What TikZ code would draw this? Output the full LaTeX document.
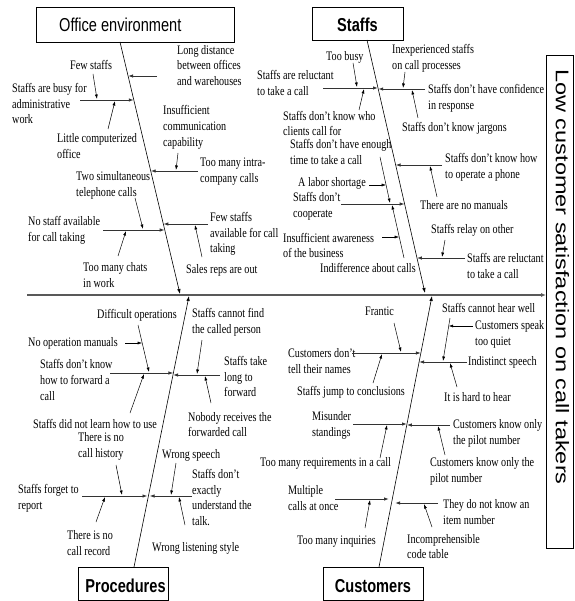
\documentclass[tikz,border=0pt]{standalone}
\usepackage{fontspec}
\setmainfont{Liberation Serif}[FakeStretch=0.78]
\newfontfamily\catfont{Liberation Sans}[FakeStretch=0.78]
\newfontfamily\effectfont{Liberation Sans}
\usetikzlibrary{arrows.meta}
\tikzset{
 lbl/.style={anchor=west,align=left,inner sep=0pt,font=\fontsize{13}{15.8}\selectfont},
 catbox/.style={draw,line width=0.6pt,inner sep=0pt},
 cattext/.style={inner sep=0pt,font=\catfont\fontsize{18.7}{20}\selectfont},
 catbold/.style={inner sep=0pt,font=\catfont\bfseries\fontsize{18.7}{20}\selectfont},
 spine/.style={line width=1.3pt,draw=black!65,-{Latex[length=5pt,width=4pt]}},
 bone/.style={line width=0.6pt,-{Latex[length=5pt,width=3.5pt]}},
 subbone/.style={line width=0.9pt,draw=black!80,-{Latex[length=5pt,width=3.5pt]}},
 cause/.style={line width=0.5pt,-{Latex[length=4.5pt,width=3pt]}},
}

\begin{document}
\begin{tikzpicture}[x=1pt,y=-1pt]
 \useasboundingbox (0,0) rectangle (574,601);
 % category boxes and effect
 \node[catbox,minimum width=198pt,minimum height=35pt] (officebox) at (135,24.5) {};
 \node[cattext,anchor=base west] (officetxt) at (59,31.7) {Office environment};
 \node[catbox,minimum width=91pt,minimum height=33pt] (staffbox) at (357.5,23.5) {};
 \node[catbold,anchor=base] (stafftxt) at (357.5,32) {Staffs};
 \node[catbox,minimum width=90pt,minimum height=33pt] (procbox) at (123,583.5) {};
 \node[catbold,anchor=base] (proctxt) at (125.5,592) {Procedures};
 \node[catbox,minimum width=100pt,minimum height=33pt] (custbox) at (373,583.5) {};
 \node[catbold,anchor=base] (custtxt) at (373,592) {Customers};
 \node[catbox,minimum width=27pt,minimum height=493pt] (effect) at (559.8,301.5) {};
 \node[rotate=-90,inner sep=0pt,font=\effectfont\fontsize{23.5}{25}\selectfont] (effecttxt) at (562.5,277) {\scalebox{1}[0.78]{Low customer satisfaction on call takers}};
 \coordinate (tail) at (27,295);
 \draw[spine] (tail) -- (tail -| effect.west);

 % office environment
 \node[lbl] (longdist) at (177,65.5) {Long distance\\between offices\\and warehouses};
 \node[lbl] (busy) at (12,103.5) {Staffs are busy for\\administrative\\work};
 \node[lbl] (fewstaffs) at (70,65) {Few staffs};
 \node[lbl] (littlecomp) at (57,146) {Little computerized\\office};
 \node[lbl] (insuffcomm) at (163,127.5) {Insufficient\\communication\\capability};
 \node[lbl] (intra) at (200,171.5) {Too many intra-\\company calls};
 \node[lbl] (twocalls) at (76,185) {Two simultaneous\\telephone calls};
 \node[lbl] (nostaff) at (28,230) {No staff available\\for call taking};
 \node[lbl] (chats) at (83,275) {Too many chats\\in work};
 \node[lbl] (fewavail) at (210,234) {Few staffs\\available for call\\taking};
 \node[lbl] (salesreps) at (186,270) {Sales reps are out};
 \coordinate (otop) at (120,42); \coordinate (otip) at (180,294);
 \draw[bone] (otop) -- (otip);
 \foreach \n/\a/\b in {o1/{157,76}/{128.1,76},o2/{80,100}/{133.8,100},o3/{198,171}/{150.7,171},o4/{103,230}/{164.7,230},o5/{208,224}/{163.3,224}}
  {\coordinate (\n-s) at (\a); \coordinate (\n-e) at (\b); \draw[subbone] (\n-s) -- (\n-e);}
 \foreach \n/\a/\b in {oc1/{93,74}/{97,99},oc2/{108,129}/{115,101},oc3/{178,153}/{176,170},oc4/{135,198}/{143,229},oc5/{118,256}/{126,231},oc6/{202,257}/{195,225}}
  {\coordinate (\n-s) at (\a); \coordinate (\n-e) at (\b); \draw[cause] (\n-s) -- (\n-e);}

 % staffs
 \node[lbl] (toobusy) at (326,57) {Too busy};
 \node[lbl] (reluct1) at (257,83) {Staffs are reluctant\\to take a call};
 \node[lbl] (knowwho) at (283,123.5) {Staffs don't know who\\clients call for};
 \node[lbl] (inexp) at (392,58) {Inexperienced staffs\\on call processes};
 \node[lbl] (confid) at (428,98.5) {Staffs don't have confidence\\in response};
 \node[lbl] (jargons) at (402,128) {Staffs don't know jargons};
 \node[lbl] (enough) at (290,152) {Staffs don't have enough\\time to take a call};
 \node[lbl] (operate) at (445,167) {Staffs don't know how\\to operate a phone};
 \node[lbl] (labor) at (298,183) {A labor shortage};
 \node[lbl] (cooperate) at (293,206.5) {Staffs don't\\cooperate};
 \node[lbl] (nomanuals) at (420,205) {There are no manuals};
 \node[lbl] (awareness) at (283,245.5) {Insufficient awareness\\of the business};
 \node[lbl] (relay) at (431,230) {Staffs relay on other};
 \node[lbl] (reluct2) at (467,266) {Staffs are reluctant\\to take a call};
 \node[lbl] (indiff) at (320,268) {Indifference about calls};
 \coordinate (stop) at (367,40); \coordinate (stip) at (425,293);
 \draw[bone] (stop) -- (stip);
 \foreach \n/\a/\b in {s1/{323,88}/{378,88},s2/{425,89}/{378.2,89},s3/{442,165}/{395.6,165},s4/{341,204}/{404.6,204},s5/{465,258}/{416.9,258}}
  {\coordinate (\n-s) at (\a); \coordinate (\n-e) at (\b); \draw[subbone] (\n-s) -- (\n-e);}
 \foreach \n/\a/\b in {sc1/{353,63}/{357,87},sc2/{359,110}/{364,89},sc3/{405,72}/{403,88},sc4/{418,118}/{412,90},sc5/{380,157}/{390,203},sc6/{369,185}/{386.1,185},sc7/{404,258}/{392,205},sc8/{382,237}/{399.2,237},sc9/{437,197}/{430,166},sc10/{445,240}/{442,257}}
  {\coordinate (\n-s) at (\a); \coordinate (\n-e) at (\b); \draw[cause] (\n-s) -- (\n-e);}

 % procedures
 \node[lbl] (difficult) at (97,315) {Difficult operations};
 \node[lbl] (cannotfind) at (192,322.5) {Staffs cannot find\\the called person};
 \node[lbl] (nomanual) at (28,343) {No operation manuals};
 \node[lbl] (forward) at (40,380) {Staffs don't know\\how to forward a\\call};
 \node[lbl] (takelong) at (224,376.5) {Staffs take\\long to\\forward};
 \node[lbl] (notlearn) at (33,424) {Staffs did not learn how to use};
 \node[lbl] (nobody) at (188,424.5) {Nobody receives the\\forwarded call};
 \node[lbl] (history) at (78,446.5) {There is no\\call history};
 \node[lbl] (wrongspeech) at (162,455) {Wrong speech};
 \node[lbl] (forget) at (18,498.5) {Staffs forget to\\report};
 \node[lbl] (understand) at (192,497.5) {Staffs don't\\exactly\\understand the\\talk.};
 \node[lbl] (record) at (67,543) {There is no\\call record};
 \node[lbl] (listening) at (152,548) {Wrong listening style};
 \coordinate (ptop) at (134,567); \coordinate (ptip) at (189,296);
 \draw[bone] (ptop) -- (ptip);
 \foreach \n/\a/\b in {p1/{110,373}/{173.4,373},p2/{220,375}/{173,375},p3/{82,496}/{147.5,496},p4/{192,496}/{149.5,496}}
  {\coordinate (\n-s) at (\a); \coordinate (\n-e) at (\b); \draw[subbone] (\n-s) -- (\n-e);}
 \foreach \n/\a/\b in {pc1/{138,325}/{149,372},pc2/{125,343}/{142.2,343},pc3/{130,413}/{144,374},pc4/{202,340}/{197,374},pc5/{211,403}/{205,376},pc6/{116,465}/{122,495},pc7/{96,522}/{105,497},pc8/{176,463}/{171,495},pc9/{185,525}/{179,497}}
  {\coordinate (\n-s) at (\a); \coordinate (\n-e) at (\b); \draw[cause] (\n-s) -- (\n-e);}

 % customers
 \node[lbl] (frantic) at (365,311) {Frantic};
 \node[lbl] (hearwell) at (442,308) {Staffs cannot hear well};
 \node[lbl] (speak) at (475,334) {Customers speak\\too quiet};
 \node[lbl] (names) at (288,361) {Customers don't\\tell their names};
 \node[lbl] (indistinct) at (468,362) {Indistinct speech};
 \node[lbl] (jump) at (297,392) {Staffs jump to conclusions};
 \node[lbl] (hardhear) at (444,397) {It is hard to hear};
 \node[lbl] (misunder) at (312,425) {Misunder\\standings};
 \node[lbl] (pilot1) at (453,433) {Customers know only\\the pilot number};
 \node[lbl] (requirements) at (260,463) {Too many requirements in a call};
 \node[lbl] (pilot2) at (430,471.5) {Customers know only the\\pilot number};
 \node[lbl] (multiple) at (288,498) {Multiple\\calls at once};
 \node[lbl] (itemnum) at (443,512) {They do not know an\\item number};
 \node[lbl] (inquiries) at (297,542) {Too many inquiries};
 \node[lbl] (codetable) at (407,546.5) {Incomprehensible\\code table};
 \coordinate (ctop) at (379,567); \coordinate (ctip) at (432,296);
 \draw[bone] (ctop) -- (ctip);
 \foreach \n/\a/\b in {c1/{352,353}/{420.9,353},c2/{467,362}/{419.1,362},c3/{353,424}/{407,424},c4/{450,425}/{406.8,425},c5/{335,499}/{389,499},c6/{438,503}/{395,503}}
  {\coordinate (\n-s) at (\a); \coordinate (\n-e) at (\b); \draw[subbone] (\n-s) -- (\n-e);}
 \foreach \n/\a/\b in {cc1/{394,323}/{401,352},cc2/{373,383}/{382,354},cc3/{450,318}/{443,361},cc4/{473,326}/{448.7,326},cc5/{457,387}/{450,363},cc6/{380,458}/{387,425},cc7/{445,455}/{438,426},cc8/{365,528}/{370,500},cc9/{432,527}/{424,504}}
  {\coordinate (\n-s) at (\a); \coordinate (\n-e) at (\b); \draw[cause] (\n-s) -- (\n-e);}
\end{tikzpicture}
\end{document}
